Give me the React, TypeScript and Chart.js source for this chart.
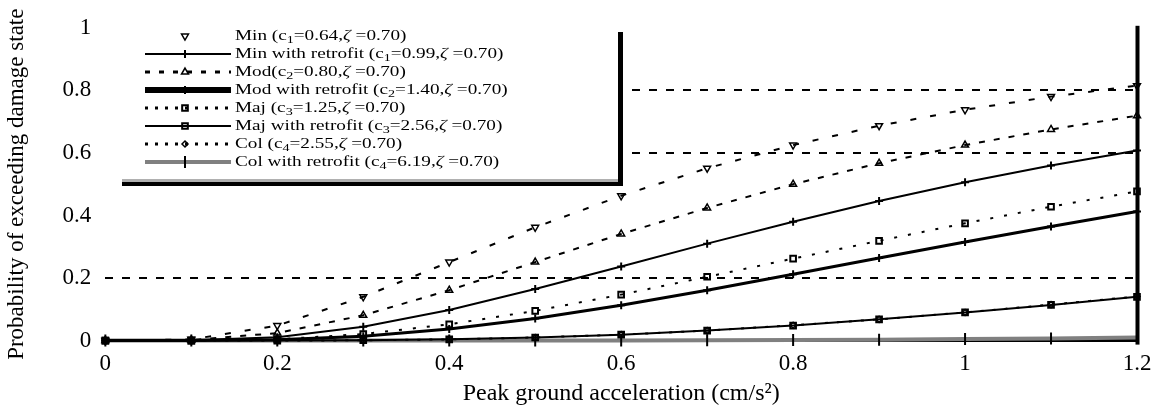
import React, { useEffect, useRef } from 'react';
import { Chart, registerables } from 'chart.js';
import { drawPoint } from 'chart.js/helpers';

Chart.register(...registerables);

// Peak ground acceleration values (x)
const pga = [0, 0.1, 0.2, 0.3, 0.4, 0.5, 0.6, 0.7, 0.8, 0.9, 1.0, 1.1, 1.2];

// Probability of exceeding damage state
const minVals = [0, 0.004, 0.048, 0.14, 0.251, 0.362, 0.463, 0.551, 0.625, 0.687, 0.738, 0.78, 0.815];
const minRetro = [0, 0.001, 0.011, 0.044, 0.098, 0.165, 0.237, 0.31, 0.38, 0.446, 0.506, 0.56, 0.608];
const modVals = [0, 0.002, 0.024, 0.081, 0.161, 0.251, 0.341, 0.424, 0.5, 0.567, 0.625, 0.675, 0.719];
const modRetro = [0, 0, 0.003, 0.014, 0.037, 0.071, 0.113, 0.161, 0.212, 0.264, 0.315, 0.365, 0.413];
const majVals = [0, 0, 0.004, 0.021, 0.052, 0.095, 0.147, 0.204, 0.262, 0.319, 0.375, 0.428, 0.477];
const majRetro = [0, 0, 0, 0.001, 0.004, 0.01, 0.019, 0.032, 0.048, 0.068, 0.09, 0.114, 0.14];
const colVals = [0, 0, 0, 0.001, 0.004, 0.01, 0.019, 0.032, 0.049, 0.068, 0.09, 0.115, 0.141];
const colRetro = [0, 0, 0, 0, 0, 0, 0, 0.001, 0.002, 0.003, 0.005, 0.007, 0.01];

const seriesLabels = [
  'Min (c₁=0.64,ζ =0.70)',
  'Min with retrofit (c₁=0.99,ζ =0.70)',
  'Mod(c₂=0.80,ζ =0.70)',
  'Mod with retrofit (c₂=1.40,ζ =0.70)',
  'Maj (c₃=1.25,ζ =0.70)',
  'Maj with retrofit (c₃=2.56,ζ =0.70)',
  'Col (c₄=2.55,ζ =0.70)',
  'Col with retrofit (c₄=6.19,ζ =0.70)',
];

const xTicks = [0, 0.2, 0.4, 0.6, 0.8, 1, 1.2];
const yTicks = [0, 0.2, 0.4, 0.6, 0.8, 1];
const dashedGridValues = [0.2, 0.6, 0.8];

const FONT = "'Liberation Serif', 'Times New Roman', serif";

// legend sample line appearance: [width, color, dash]
const legendSamples: [number, string, number[]][] = [
  [0, '#000', []],
  [2, '#000', []],
  [3, '#000', [5, 9]],
  [6, '#000', []],
  [3, '#000', [3, 7]],
  [2, '#000', []],
  [3, '#000', [3, 7]],
  [4, '#808080', []],
];

const SUBS: Record<string, string> = { '₁': '1', '₂': '2', '₃': '3', '₄': '4' };
const LEGEND_STRETCH = 1.28;

function drawRichText(ctx: CanvasRenderingContext2D, text: string, x: number, y: number) {
  ctx.save();
  ctx.translate(x, y);
  ctx.scale(LEGEND_STRETCH, 1);
  let cx = 0;
  for (const ch of Array.from(text)) {
    if (SUBS[ch]) {
      ctx.font = `11px ${FONT}`;
      ctx.fillText(SUBS[ch], cx, 4);
      cx += ctx.measureText(SUBS[ch]).width;
    } else if (ch === 'ζ') {
      ctx.font = `italic 15px ${FONT}`;
      ctx.fillText(ch, cx, 0);
      cx += ctx.measureText(ch).width;
    } else {
      ctx.font = `15px ${FONT}`;
      ctx.fillText(ch, cx, 0);
      cx += ctx.measureText(ch).width;
    }
  }
  ctx.restore();
}

const framePlugin = {
  id: 'framePlugin',
  afterDatasetsDraw(chart: any) {
    const ctx: CanvasRenderingContext2D = chart.ctx;
    const area = chart.chartArea;
    const xs = chart.scales.x;
    ctx.save();
    // right vertical frame line at x = 1.2
    const rx = xs.getPixelForValue(1.2);
    ctx.fillStyle = '#000';
    ctx.fillRect(rx - 1.5, area.top - 2, 4, area.bottom - area.top + 6);

    // legend box
    const left = 100, top = 22, right = 618, bottom = 180;
    ctx.fillStyle = '#fff';
    ctx.fillRect(left, top, right - left, bottom - top);
    // shadow
    ctx.fillStyle = '#b0b0b0';
    ctx.fillRect(122, bottom - 1, right - 122, 3);
    ctx.fillStyle = '#000';
    ctx.fillRect(122, bottom + 2, right - 122 + 5, 4);
    ctx.fillRect(right, 32, 5, bottom + 6 - 32);

    const datasets = chart.data.datasets;
    for (let i = 0; i < datasets.length; i++) {
      const ds = datasets[i];
      const cy = 36 + i * 18;
      const [w, col, dash] = legendSamples[i];
      if (w > 0) {
        ctx.save();
        ctx.strokeStyle = col;
        ctx.lineWidth = w;
        ctx.setLineDash(dash);
        ctx.beginPath();
        ctx.moveTo(145, cy);
        ctx.lineTo(231, cy);
        ctx.stroke();
        ctx.restore();
      }
      ctx.save();
      ctx.strokeStyle = '#000';
      ctx.fillStyle = ds.pointBackgroundColor || '#fff';
      ctx.lineWidth = ds.pointBorderWidth || 1.5;
      ctx.setLineDash([]);
      drawPoint(ctx, {
        pointStyle: ds.pointStyle,
        radius: ds.pointRadius,
        rotation: ds.pointRotation || 0,
        borderWidth: ds.pointBorderWidth || 1.5,
      } as any, 185, cy);
      ctx.restore();
      ctx.fillStyle = '#000';
      ctx.textBaseline = 'middle';
      ctx.textAlign = 'left';
      drawRichText(ctx, ds.label, 235, cy);
    }
    ctx.restore();
  },
};

export default function App() {
  const ref = useRef<HTMLCanvasElement>(null);
  useEffect(() => {
    document.body.style.margin = '0';
    const canvas = ref.current!;
    const mk = (vals: number[]) => pga.map((x, i) => ({ x, y: vals[i] }));
    const common = {
      borderColor: '#000',
      pointBorderColor: '#000',
      pointBackgroundColor: 'rgba(255,255,255,0)',
      fill: false,
      tension: 0,
      clip: 10,
    };
    const chart = new Chart(canvas, {
      type: 'line',
      data: {
        datasets: [
          { ...common, label: seriesLabels[0], data: mk(minVals), borderWidth: 2, borderDash: [6, 14], pointStyle: 'triangle', pointRotation: 180, pointRadius: 4, pointBorderWidth: 1.5 },
          { ...common, label: seriesLabels[1], data: mk(minRetro), borderWidth: 2, pointStyle: 'cross', pointRadius: 4, pointBorderWidth: 2 },
          { ...common, label: seriesLabels[2], data: mk(modVals), borderWidth: 2, borderDash: [6, 9], pointStyle: 'triangle', pointRadius: 4, pointBorderWidth: 1.5 },
          { ...common, label: seriesLabels[3], data: mk(modRetro), borderWidth: 3, pointStyle: 'cross', pointRadius: 4, pointBorderWidth: 2 },
          { ...common, label: seriesLabels[4], data: mk(majVals), borderWidth: 2, borderDash: [3, 11], pointStyle: 'rect', pointRadius: 4, pointBorderWidth: 2 },
          { ...common, label: seriesLabels[5], data: mk(majRetro), borderWidth: 2, pointStyle: 'rect', pointRadius: 4, pointBorderWidth: 2 },
          { ...common, label: seriesLabels[6], data: mk(colVals), borderWidth: 2, borderDash: [3, 9], pointStyle: 'rectRot', pointRadius: 3, pointBorderWidth: 1.5 },
          { ...common, label: seriesLabels[7], data: mk(colRetro), borderColor: '#808080', borderWidth: 4, pointStyle: 'line', pointRotation: 90, pointRadius: 6, pointBorderWidth: 2 },
        ] as any,
      },
      options: {
        responsive: false,
        devicePixelRatio: 1,
        animation: false,
        layout: { padding: { left: 0, right: 19, top: 24, bottom: 0 } },
        plugins: {
          legend: { display: false },
          tooltip: { enabled: false },
        },
        scales: {
          x: {
            type: 'linear',
            min: 0,
            max: 1.2,
            z: 1,
            afterBuildTicks: (s: any) => { s.ticks = xTicks.map((v) => ({ value: v })); },
            ticks: {
              color: '#000',
              padding: 0,
              font: { family: FONT, size: 23 },
              maxRotation: 0,
              callback: (v: any) => String(Number(Number(v).toFixed(1))),
            },
            grid: { display: false, drawTicks: true, tickLength: 10 },
            border: { display: true, color: '#000', width: 3 },
            title: {
              display: true,
              text: 'Peak ground acceleration (cm/s²)',
              color: '#000',
              font: { family: FONT, size: 24 },
              padding: { top: 1, bottom: 2 },
            },
          },
          y: {
            type: 'linear',
            min: 0,
            max: 1,
            afterBuildTicks: (s: any) => { s.ticks = yTicks.map((v) => ({ value: v })); },
            ticks: {
              color: '#000',
              padding: 14,
              font: { family: FONT, size: 23 },
              callback: (v: any) => String(Number(Number(v).toFixed(1))),
            },
            grid: {
              drawTicks: false,
              lineWidth: 2,
              color: (c: any) => (dashedGridValues.some((g) => Math.abs(g - c.tick.value) < 1e-6) ? '#000' : 'rgba(0,0,0,0)'),
            },
            border: { display: false, dash: [8, 9] },
            title: {
              display: true,
              text: 'Probability of exceeding damage state',
              color: '#000',
              font: { family: FONT, size: 23 },
              padding: { top: 3, bottom: 18 },
            },
          },
        },
      },
      plugins: [framePlugin],
    } as any);
    return () => chart.destroy();
  }, []);
  return (
    <div style={{ width: 1156, height: 410 }}>
      <canvas ref={ref} width={1156} height={410} style={{ display: 'block' }} />
    </div>
  );
}
